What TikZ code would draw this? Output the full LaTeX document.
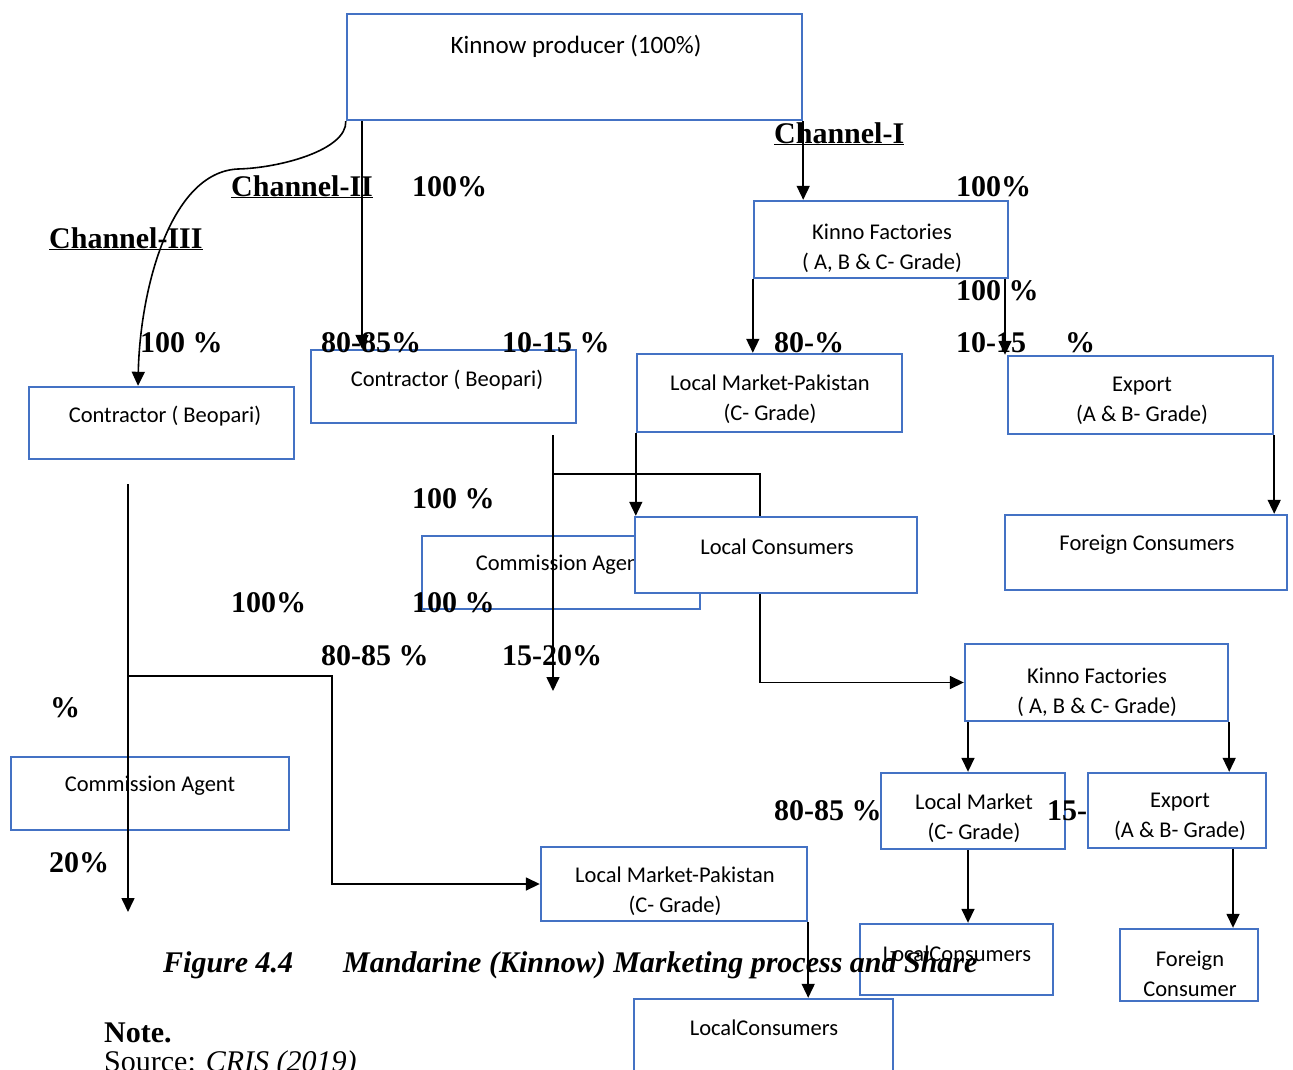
\documentclass[tikz,border=0pt]{standalone}
\usepackage{fontspec}
\setmainfont{Liberation Serif}
\newfontfamily\boxfont{Carlito}
\usetikzlibrary{arrows.meta}
\definecolor{boxblue}{RGB}{68,114,196}
\tikzset{
  box/.style   ={rectangle,draw=boxblue,line width=2.4pt,fill=white,inner sep=0pt},
  sz/.style 2 args={minimum width=#1pt,minimum height=#2pt},
  btxt/.style  ={font=\boxfont\fontsize{22.5}{30}\selectfont,align=center,inner sep=0pt},
  pct/.style   ={font=\fontsize{30}{34}\selectfont\bfseries,anchor=base west,inner sep=0pt},
  flow/.style  ={-{Triangle[length=14pt,width=13pt]},draw=black,line width=1.6pt},
  link/.style  ={draw=black,line width=1.6pt},
}

\begin{document}
\begin{tikzpicture}[x=1pt,y=-1pt]
\useasboundingbox (0,0) rectangle (1293,1070);
\clip (0,0) rectangle (1293,1070);

%% ---------------- boxes ----------------
%% box outline first, its text as a second node (Word places it near the top)
\node[box,sz={455}{106}] (prod)   at (574.5,67)   {};
\node[btxt,font=\boxfont\fontsize{25}{30}\selectfont]
                         (prodT)  at (576,46)     {Kinnow producer (100\%)};

\node[box,sz={254}{77}]  (kfTop)  at (881,239.5)  {};
\node[btxt]              (kfTopT) at (882,248)    {Kinno Factories\\( A, B \& C- Grade)};

\node[box,sz={265}{72}]  (conL)   at (161.5,423)  {};
\node[btxt]              (conLT)  at (165,416)    {Contractor ( Beopari)};

\node[box,sz={265}{73}]  (conM)   at (443.5,386.5){};
\node[btxt]              (conMT)  at (447,380)    {Contractor ( Beopari)};

\node[box,sz={265}{78}]  (lmpTop) at (769.5,393)  {};
\node[btxt]              (lmpTopT)at (770,399)    {Local Market-Pakistan\\(C- Grade)};

\node[box,sz={265}{78}]  (expTop) at (1140.5,395) {};
\node[btxt]              (expTopT)at (1142,401)   {Export\\(A \& B- Grade)};

\node[box,sz={278}{73}]  (caM)    at (561,572.5)  {};
\node[btxt]              (caMT)   at (561,565)    {Commission Agent};

%% drawn after caM, so it hides part of it
\node[box,sz={282}{76}]  (lcTop)  at (776,555)    {};
\node[btxt]              (lcTopT) at (777,547)    {Local Consumers};

\node[box,sz={282}{75}]  (fcTop)  at (1146,552.5) {};
\node[btxt]              (fcTopT) at (1147,545)   {Foreign Consumers};

\node[box,sz={263}{77}]  (kfBot)  at (1096.5,682.5){};
\node[btxt]              (kfBotT) at (1097,692)   {Kinno Factories\\( A, B \& C- Grade)};

\node[box,sz={278}{73}]  (caL)    at (150,793.5)  {};
\node[btxt]              (caLT)   at (150,786)    {Commission Agent};

\node[box,sz={184}{76}]  (lmBot)  at (973,811)    {};
\node[btxt]              (lmBotT) at (974,818)    {Local Market\\(C- Grade)};

\node[box,sz={178}{75}]  (expBot) at (1177,810.5) {};
\node[btxt]              (expBotT)at (1180,817)   {Export\\(A \& B- Grade)};

\node[box,sz={266}{74}]  (lmpBot) at (674,884)    {};
\node[btxt]              (lmpBotT)at (675,891)    {Local Market-Pakistan\\(C- Grade)};

\node[box,sz={193}{71}]  (lcMid)  at (956.5,959.5){};
\node[btxt]              (lcMidT) at (957,954)    {LocalConsumers};

\node[box,sz={138}{72}]  (fcBot)  at (1189,965)   {};
\node[btxt]              (fcBotT) at (1190,974)   {Foreign\\Consumer};

\node[box,sz={259}{76}]  (lcBot)  at (763.5,1037) {};
\node[btxt]              (lcBotT) at (764,1028)   {LocalConsumers};

%% ---------------- lanes and free ends ----------------
\coordinate (xII)  at (362,0);
\coordinate (xC)   at (138,0);
\coordinate (xP)   at (332,0);
\coordinate (xB)   at (1005,0);
\coordinate (xA)   at (968,0);
\coordinate (xE)   at (1233,0);
\coordinate (bendIII)  at (238,169);
\coordinate (midTop)   at (553,435);
\coordinate (midJoin)  at (553,474);
\coordinate (midEnd)   at (553,691);
\coordinate (leftTop)  at (128,484);
\coordinate (leftJoin) at (128,676);
\coordinate (leftEnd)  at (128,912);

%% ---------------- connectors ----------------
%% channel III
\draw[flow] (prod.south west) .. controls (347,150) and (280,168) .. (bendIII)
            .. controls (170,172) and (140,290) .. (conL.north -| xC);
\draw[flow] (leftTop) -- (leftEnd);
\draw[flow] (leftJoin) -- (leftJoin -| xP) |- (lmpBot.west);
\draw[flow] (lmpBot.south east) -- (lcBot.north -| lmpBot.south east);

%% channel II
\draw[flow] (prod.south -| xII) -- (conM.north -| xII);
\draw[flow] (midTop) -- (midEnd);
\draw[link] (midJoin) -| ([xshift=-16pt]lcTop.north);
\draw[flow] ([xshift=-16pt]lcTop.south) |- (kfBot.west);
\draw[flow] (kfBot.south -| xA) -- (lmBot.north -| xA);
\draw[flow] (kfBot.south east) -- (expBot.north -| kfBot.south east);
\draw[flow] (lmBot.south -| xA) -- (lcMid.north -| xA);
\draw[flow] (expBot.south -| xE) -- (fcBot.north -| xE);

%% channel I
\draw[flow] (prod.south east) -- (kfTop.north -| prod.south east);
\draw[flow] (kfTop.south west) -- (lmpTop.north -| kfTop.south west);
\draw[flow] (kfTop.south -| xB) -- (expTop.north -| xB);
\draw[flow] (lmpTop.south west) -- (lcTop.north -| lmpTop.south west);
\draw[flow] (expTop.south east) -- (fcTop.north -| expTop.south east);

%% ---------------- labels ----------------
\node[pct] (chI)   at (774,143)  {\underline{Channel-I}};
\node[pct] (chII)  at (231,196)  {\underline{Channel-II}};
\node[pct] (chIII) at (49,248)   {\underline{Channel-III}};

\node[pct] (pA) at (412,196)  {100\%};
\node[pct] (pB) at (956,196)  {100\%};
\node[pct] (pC) at (956,300)  {100 \%};
\node[pct] (pD) at (140,352)  {100 \%};
\node[pct] (pE) at (321,352)  {80-85\%};
\node[pct] (pF) at (502,352)  {10-15 \%};
\node[pct] (pG) at (774,352)  {80-\%};
\node[pct] (pH) at (956,352)  {10-15\hspace{39pt}\%};
\node[pct] (pI) at (412,508)  {100 \%};
\node[pct] (pJ) at (231,612)  {100\%};
\node[pct] (pK) at (412,612)  {100 \%};
\node[pct] (pL) at (321,665)  {80-85 \%};
\node[pct] (pM) at (502,665)  {15-20\%};
\node[pct] (pN) at (50,717)   {\%};
\node[pct] (pO) at (49,872)   {20\%};
\node[pct] (pP) at (774,820)  {80-85 \%};
\node[pct] (pQ) at (1047,820) {15-};

%% ---------------- caption ----------------
\node[pct,font=\fontsize{30}{34}\selectfont\bfseries\itshape] (cap) at (163,972)
  {Figure 4.4\hspace{50pt}Mandarine (Kinnow) Marketing process and Share};
\node[pct] (note) at (104,1042) {Note.};
\node[pct,font=\fontsize{30}{34}\selectfont] (src) at (104,1071) {Source: \textit{CRIS (2019)}};

\end{tikzpicture}
\end{document}
